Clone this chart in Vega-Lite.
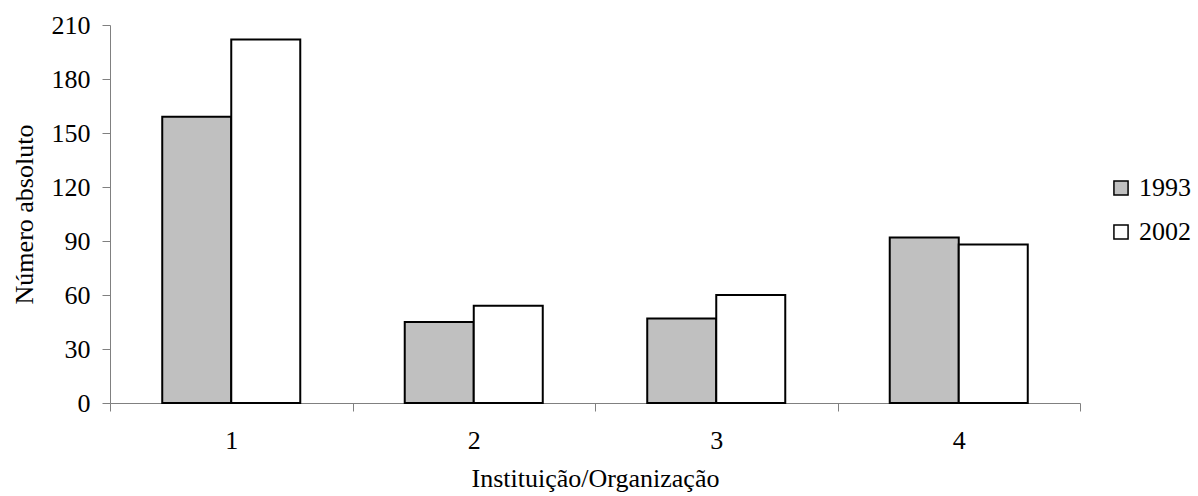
{
  "$schema": "https://vega.github.io/schema/vega-lite/v6.json",
  "autosize": {"type": "none"},
  "width": 970,
  "height": 378,
  "padding": {"left": 110, "top": 25, "right": 118, "bottom": 93},
  "background": "white",
  "config": {
    "view": {"stroke": null},
    "font": "Liberation Serif",
    "axis": {"labelFont": "Liberation Serif", "titleFont": "Liberation Serif", "labelFontSize": 26, "titleFontSize": 26, "labelColor": "black", "titleColor": "black", "titleFontWeight": "normal", "grid": false, "domainColor": "#808080", "tickColor": "#808080", "tickSize": 8}
  },
  "data": {"values": [
    {"cat": "1", "ano": "1993", "valor": 159},
    {"cat": "1", "ano": "2002", "valor": 202},
    {"cat": "2", "ano": "1993", "valor": 45},
    {"cat": "2", "ano": "2002", "valor": 54},
    {"cat": "3", "ano": "1993", "valor": 47},
    {"cat": "3", "ano": "2002", "valor": 60},
    {"cat": "4", "ano": "1993", "valor": 92},
    {"cat": "4", "ano": "2002", "valor": 88}
  ]},
  "mark": {"type": "bar", "stroke": "black", "strokeWidth": 2},
  "encoding": {
    "x": {"field": "cat", "type": "nominal", "title": "Instituição/Organização",
      "scale": {"paddingInner": 0, "paddingOuter": 0},
      "axis": {"labelAngle": 0, "tickBand": "extent", "labelPadding": 16, "titlePadding": 12}},
    "xOffset": {"field": "ano", "type": "nominal", "scale": {"paddingInner": 0, "paddingOuter": 0.757}},
    "y": {"field": "valor", "type": "quantitative", "title": "Número absoluto",
      "scale": {"domain": [0, 210], "nice": false},
      "axis": {"values": [0, 30, 60, 90, 120, 150, 180, 210], "labelPadding": 12, "titlePadding": 14}},
    "fill": {"field": "ano", "type": "nominal",
      "scale": {"domain": ["1993", "2002"], "range": ["#c0c0c0", "#ffffff"]},
      "legend": {"title": null, "orient": "none", "legendX": 998, "legendY": 150, "labelFont": "Liberation Serif", "labelFontSize": 26, "labelColor": "black", "symbolType": "square", "symbolSize": 200, "symbolStrokeColor": "black", "symbolStrokeWidth": 1.5, "rowPadding": 18, "labelOffset": 5}}
  }
}
